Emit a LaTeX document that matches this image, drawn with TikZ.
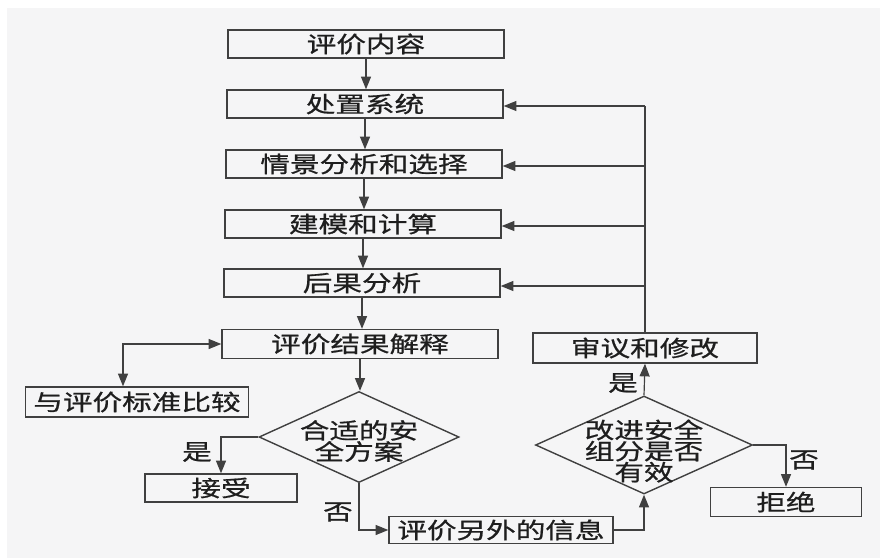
\documentclass[tikz,border=0pt]{standalone}
\usepackage{fontspec}
\newfontfamily\cjk[FakeStretch=1.33,FakeBold=0.8]{Noto Sans CJK SC}
\usetikzlibrary{arrows.meta,shapes.geometric}
\definecolor{linegray}{HTML}{404040}
\definecolor{inkgray}{HTML}{1E1E1E}
\definecolor{paper}{HTML}{F5F5F6}
\tikzset{
  stagebox/.style={
    draw=linegray,
    line width=1.2pt,
    inner sep=0pt,
    minimum width=8.28cm,
    minimum height=0.84cm
  },
  sidebox/.style={
    draw=linegray,
    line width=1.2pt,
    inner sep=0pt,
    minimum height=0.86cm
  },
  decision/.style={
    shape=diamond,
    draw=linegray,
    line width=1.2pt,
    inner sep=0pt
  },
  flow/.style={
    draw=linegray,
    line width=1pt,
    -{Triangle[length=0.38cm,width=0.3cm]}
  },
  every picture/.style={
    font=\cjk\fontsize{19}{18}\selectfont,
    text=inkgray
  }
}
\begin{document}
\begin{tikzpicture}[x=0.03cm,y=-0.03cm]
  \useasboundingbox (0,0) rectangle (880,558);
  \fill[white] (0,0) rectangle (880,558);
  \fill[paper] (7,8) rectangle (880,558);
  % main column
  \node[stagebox] (content) at (366,44) {评价内容};
  \node[stagebox] (system) at (365,104) {处置系统};
  \node[stagebox] (scenario) at (364,164) {情景分析和选择};
  \node[stagebox] (model) at (363,224) {建模和计算};
  \node[stagebox] (conseq) at (362,283) {后果分析};
  \node[stagebox,minimum height=0.87cm] (interp) at (360,344) {评价结果解释};
  \foreach \a/\b in {content/system,system/scenario,scenario/model,model/conseq,conseq/interp}{
    \draw[flow] (\a.south) -- (\a.south |- \b.north);
  }
  \node[sidebox,minimum width=6.69cm,minimum height=0.9cm] (compare) at (137,402) {与评价标准比较};
  \coordinate (cmpturn) at (123,344);
  \draw[flow,{Triangle[length=0.38cm,width=0.3cm]}-{Triangle[length=0.38cm,width=0.3cm]}]
    (compare.north -| cmpturn) |- (interp.west);
  % first decision
  \node[decision,minimum width=6cm,minimum height=2.73cm] (suitable) at (359,437) {};
  \node[align=center,inner sep=0pt] (suitabletext) at (359,441) {合适的安\\全方案};
  \draw[flow] (interp.south) -- (interp.south |- suitable.north);
  \node[sidebox,minimum width=4.56cm,minimum height=0.84cm] (accept) at (221,488) {接受};
  \draw[flow] (suitable.west) -| (accept.north);
  \node (yesa) at (197,452) {是};
  \node[sidebox,minimum width=6.72cm,minimum height=0.81cm] (info) at (501,530) {评价另外的信息};
  \draw[flow] (suitable.south) |- (info.west);
  \node (noa) at (338,512) {否};
  % second decision
  \node[decision,minimum width=6.51cm,minimum height=2.94cm] (effective) at (644,445) {};
  \node[align=center,inner sep=0pt] (effectivetext) at (644,451) {改进安全\\组分是否\\有效};
  \draw[flow] (info.east) -| (effective.south);
  \node[sidebox,minimum width=6.72cm,minimum height=0.9cm] (review) at (645,348) {审议和修改};
  \draw[flow] (effective.north) -- (review.south);
  \node (yesb) at (623,383) {是};
  \node[sidebox,minimum width=4.53cm,minimum height=0.87cm] (reject) at (786,502) {拒绝};
  \draw[flow] (effective.east) -| (reject.north);
  \node (nob) at (804,460) {否};
  % feedback loop
  \foreach \n/\y [count=\i] in {system/106,scenario/166,model/226,conseq/286}{
    \coordinate (fb\i) at (645,\y);
    \draw[flow] (fb\i) -- (fb\i -| \n.east);
  }
  \draw[flow,-] (review.north) -- (fb1);
\end{tikzpicture}
\end{document}
